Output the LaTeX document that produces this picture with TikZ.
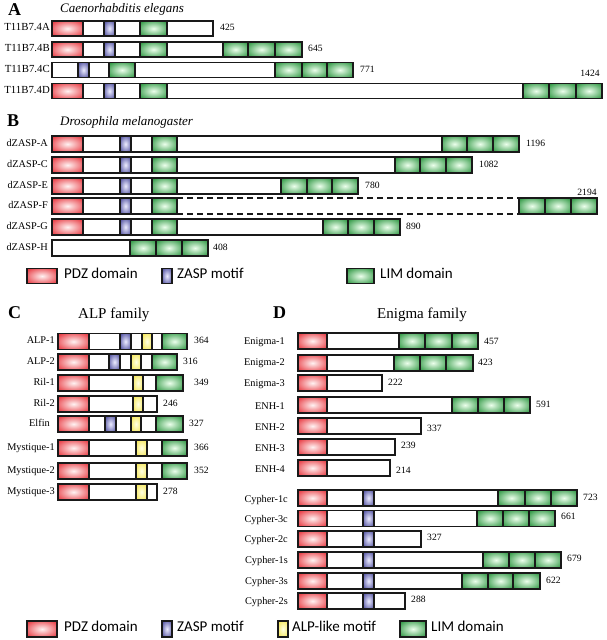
\documentclass[tikz,border=0pt]{standalone}
\usepackage{fontspec}
\setmainfont{Liberation Serif}
\newfontfamily\legfont{Carlito}
\definecolor{pdzO}{RGB}{232,58,66}
\definecolor{pdzI}{RGB}{255,242,242}
\definecolor{zaspO}{RGB}{78,78,158}
\definecolor{zaspI}{RGB}{236,236,255}
\definecolor{alpO}{RGB}{245,230,80}
\definecolor{alpI}{RGB}{255,255,228}
\definecolor{limO}{RGB}{48,152,68}
\definecolor{limI}{RGB}{236,255,236}
\pgfdeclareradialshading{pdzsh}{\pgfpoint{0bp}{0bp}}{color(0bp)=(pdzI); color(33bp)=(pdzO); color(50bp)=(pdzO)}
\pgfdeclareradialshading{zaspsh}{\pgfpoint{0bp}{0bp}}{color(0bp)=(zaspI); color(33bp)=(zaspO); color(50bp)=(zaspO)}
\pgfdeclareradialshading{alpsh}{\pgfpoint{0bp}{0bp}}{color(0bp)=(alpI); color(33bp)=(alpO); color(50bp)=(alpO)}
\pgfdeclareradialshading{limsh}{\pgfpoint{0bp}{0bp}}{color(0bp)=(limI); color(33bp)=(limO); color(50bp)=(limO)}
\def\hh{8}
\newcommand{\dm}[4]{\path[#1] (#2,#4-\hh) rectangle (#3,#4+\hh);}
\newcommand{\bx}[3]{\path[barst] (#1,#3-\hh) rectangle (#2,#3+\hh);}
\newcommand{\tlim}[5]{\dm{dlim}{#1}{#2}{#5}\dm{dlim}{#2}{#3}{#5}\dm{dlim}{#3}{#4}{#5}}
\begin{document}
\begin{tikzpicture}[x=1pt,y=-1pt,
  ol/.style={draw=black!90, line width=1.15pt},
  barst/.style={ol, fill=white},
  dpdz/.style={ol, shade, shading=pdzsh},
  dzasp/.style={ol, shade, shading=zaspsh},
  dalp/.style={ol, shade, shading=alpsh},
  dlim/.style={ol, shade, shading=limsh},
  dashline/.style={draw=black!90, line width=1.15pt, dash pattern=on 6pt off 4pt},
  lab/.style={font=\fontsize{10.3}{12}\selectfont, anchor=mid east, inner sep=0pt},
  labA/.style={font=\fontsize{10.8}{12}\selectfont, anchor=mid east, inner sep=0pt},
  num/.style={font=\fontsize{9.6}{11}\selectfont, anchor=mid west, inner sep=0pt},
  ttl/.style={font=\fontsize{13}{15}\selectfont\itshape, anchor=base west, inner sep=0pt},
  letter/.style={font=\fontsize{18}{20}\selectfont\bfseries, anchor=base west, inner sep=0pt},
  fam/.style={font=\fontsize{15}{17}\selectfont, anchor=base west, inner sep=0pt},
  leg/.style={font=\legfont\fontsize{15}{17}\selectfont, anchor=mid west, inner sep=0pt},
]
\useasboundingbox (0,0) rectangle (606,640);
\fill[white] (0,0) rectangle (606,640);

% ===== A =====
\node[letter] (lA) at (8,15) {A};
\node[ttl] (tA) at (60,12.5) {Caenorhabditis elegans};
\def\hh{7.5}
\node[labA] (a1) at (50,28.5) {T11B7.4A};
\bx{52}{213}{28.5}
\dm{dpdz}{52}{83}{28.5}
\dm{dzasp}{104}{115}{28.5}
\dm{dlim}{140}{167}{28.5}
\node[num] (a1n) at (220,28.5) {425};

\node[labA] (a2) at (50,49.5) {T11B7.4B};
\bx{52}{302}{49.5}
\dm{dpdz}{52}{83}{49.5}
\dm{dzasp}{104}{115}{49.5}
\dm{dlim}{140}{167}{49.5}
\tlim{223}{248}{275}{302}{49.5}
\node[num] (a2n) at (308,49.5) {645};

\node[labA] (a3) at (50,70) {T11B7.4C};
\bx{52}{353}{70}
\dm{dzasp}{78}{89}{70}
\dm{dlim}{109}{135}{70}
\tlim{275}{302}{327}{353}{70}
\node[num] (a3n) at (360,70) {771};

\node[labA] (a4) at (50,91) {T11B7.4D};
\bx{52}{602}{91}
\dm{dpdz}{52}{83}{91}
\dm{dzasp}{104}{115}{91}
\dm{dlim}{140}{167}{91}
\tlim{523}{549}{576}{602}{91}
\node[num, anchor=mid] (a4n) at (590,74) {1424};

% ===== B =====
\node[letter] (lB) at (7,126) {B};
\node[ttl] (tB) at (60,125) {Drosophila melanogaster};
\def\hh{8}
\node[lab] (b1) at (48,144) {dZASP-A};
\bx{52}{519}{144}
\dm{dpdz}{52}{83}{144}
\dm{dzasp}{120}{131}{144}
\dm{dlim}{152}{177}{144}
\tlim{442}{467}{493}{519}{144}
\node[num] (b1n) at (526,144) {1196};

\node[lab] (b2) at (48,165) {dZASP-C};
\bx{52}{472}{165}
\dm{dpdz}{52}{83}{165}
\dm{dzasp}{120}{131}{165}
\dm{dlim}{152}{177}{165}
\tlim{395}{420}{446}{472}{165}
\node[num] (b2n) at (479,165) {1082};

\node[lab] (b3) at (48,186) {dZASP-E};
\bx{52}{358}{186}
\dm{dpdz}{52}{83}{186}
\dm{dzasp}{120}{131}{186}
\dm{dlim}{152}{177}{186}
\tlim{281}{307}{332}{358}{186}
\node[num] (b3n) at (365,186) {780};

\node[lab] (b4) at (48,206) {dZASP-F};
\bx{52}{177}{206}
\coordinate (f1) at (177,198);
\coordinate (f2) at (519,198);
\coordinate (f3) at (177,214);
\coordinate (f4) at (519,214);
\draw[dashline] (f1) -- (f2);
\draw[dashline] (f3) -- (f4);
\dm{dpdz}{52}{83}{206}
\dm{dzasp}{120}{131}{206}
\dm{dlim}{152}{177}{206}
\tlim{519}{545}{571}{597}{206}
\node[num, anchor=mid] (b4n) at (587,193) {2194};

\node[lab] (b5) at (48,227) {dZASP-G};
\bx{52}{400}{227}
\dm{dpdz}{52}{83}{227}
\dm{dzasp}{120}{131}{227}
\dm{dlim}{152}{177}{227}
\tlim{323}{348}{374}{400}{227}
\node[num] (b5n) at (406,227) {890};

\node[lab] (b6) at (48,248) {dZASP-H};
\bx{52}{208}{248}
\tlim{130}{156}{182}{208}{248}
\node[num] (b6n) at (213,248) {408};

% legend 1
\def\hh{7.5}
\dm{dpdz}{27}{57}{276}
\node[leg] (lg1) at (64,276) {PDZ domain};
\dm{dzasp}{162}{172}{276}
\node[leg] (lg2) at (177,276) {ZASP motif};
\dm{dlim}{347}{374}{276}
\node[leg] (lg3) at (380,276) {LIM domain};

% ===== C =====
\node[letter] (lC) at (8,318) {C};
\node[fam] (tC) at (78,318) {ALP family};
\def\hh{8}
\node[lab] (c1) at (55,341.5) {ALP-1};
\bx{58}{187}{341.5}
\dm{dpdz}{58}{89}{341.5}
\dm{dzasp}{120}{131}{341.5}
\dm{dalp}{142}{152}{341.5}
\dm{dlim}{162}{187}{341.5}
\node[num] (c1n) at (194,341.5) {364};

\node[lab] (c2) at (55,362) {ALP-2};
\bx{58}{177}{362}
\dm{dpdz}{58}{89}{362}
\dm{dzasp}{109}{120}{362}
\dm{dalp}{131}{141}{362}
\dm{dlim}{152}{177}{362}
\node[num] (c2n) at (183,362) {316};

\node[lab] (c3) at (55,383) {Ril-1};
\bx{58}{183}{383}
\dm{dpdz}{58}{89}{383}
\dm{dalp}{133}{143}{383}
\dm{dlim}{156}{183}{383}
\node[num] (c3n) at (194,383) {349};

\node[lab] (c4) at (55,404) {Ril-2};
\bx{58}{157}{404}
\dm{dpdz}{58}{89}{404}
\dm{dalp}{133}{143}{404}
\node[num] (c4n) at (163,404) {246};

\node[lab] (c5) at (50,424) {Elfin};
\bx{58}{183}{424}
\dm{dpdz}{58}{89}{424}
\dm{dzasp}{105}{116}{424}
\dm{dalp}{131}{141}{424}
\dm{dlim}{156}{183}{424}
\node[num] (c5n) at (189,424) {327};

\node[lab] (c6) at (55,448) {Mystique-1};
\bx{58}{187}{448}
\dm{dpdz}{58}{89}{448}
\dm{dalp}{136}{147}{448}
\dm{dlim}{162}{187}{448}
\node[num] (c6n) at (194,448) {366};

\node[lab] (c7) at (55,471) {Mystique-2};
\bx{58}{187}{471}
\dm{dpdz}{58}{89}{471}
\dm{dalp}{136}{147}{471}
\dm{dlim}{162}{187}{471}
\node[num] (c7n) at (194,471) {352};

\node[lab] (c8) at (55,492) {Mystique-3};
\bx{58}{157}{492}
\dm{dpdz}{58}{89}{492}
\dm{dalp}{136}{147}{492}
\node[num] (c8n) at (163,492) {278};

% ===== D =====
\node[letter] (lD) at (273,318) {D};
\node[fam] (tD) at (377,318) {Enigma family};

\node[lab] (d1) at (285,342) {Enigma-1};
\bx{298}{478}{341}
\dm{dpdz}{298}{327}{341}
\tlim{399}{425}{452}{478}{341}
\node[num] (d1n) at (484,342) {457};

\node[lab] (d2) at (285,363) {Enigma-2};
\bx{298}{473}{363}
\dm{dpdz}{298}{327}{363}
\tlim{394}{420}{446}{473}{363}
\node[num] (d2n) at (478,363) {423};

\node[lab] (d3) at (285,384) {Enigma-3};
\bx{298}{382}{383}
\dm{dpdz}{298}{327}{383}
\node[num] (d3n) at (388,383) {222};

\node[lab] (d4) at (285,407) {ENH-1};
\bx{298}{530}{405}
\dm{dpdz}{298}{327}{405}
\tlim{452}{478}{504}{530}{405}
\node[num] (d4n) at (536,405) {591};

\node[lab] (d5) at (285,428) {ENH-2};
\bx{298}{421}{426}
\dm{dpdz}{298}{327}{426}
\node[num] (d5n) at (427,429) {337};

\node[lab] (d6) at (285,449) {ENH-3};
\bx{298}{395}{447}
\dm{dpdz}{298}{327}{447}
\node[num] (d6n) at (401,446) {239};

\node[lab] (d7) at (285,470) {ENH-4};
\bx{298}{390}{468}
\dm{dpdz}{298}{327}{468}
\node[num] (d7n) at (396,471) {214};

\node[lab] (d8) at (288,500) {Cypher-1c};
\bx{298}{577}{498}
\dm{dpdz}{298}{327}{498}
\dm{dzasp}{363}{374}{498}
\tlim{498}{525}{551}{577}{498}
\node[num] (d8n) at (583,498) {723};

\node[lab] (d9) at (288,520) {Cypher-3c};
\bx{298}{555}{518.5}
\dm{dpdz}{298}{327}{518.5}
\dm{dzasp}{363}{374}{518.5}
\tlim{477}{503}{529}{555}{518.5}
\node[num] (d9n) at (561,517) {661};

\node[lab] (d10) at (288,540) {Cypher-2c};
\bx{298}{421}{539}
\dm{dpdz}{298}{327}{539}
\dm{dzasp}{363}{374}{539}
\node[num] (d10n) at (427,538) {327};

\node[lab] (d11) at (288,561) {Cypher-1s};
\bx{298}{561}{560}
\dm{dpdz}{298}{327}{560}
\dm{dzasp}{363}{374}{560}
\tlim{483}{509}{535}{561}{560}
\node[num] (d11n) at (567,559) {679};

\node[lab] (d12) at (288,582) {Cypher-3s};
\bx{298}{540}{581}
\dm{dpdz}{298}{327}{581}
\dm{dzasp}{363}{374}{581}
\tlim{462}{488}{513}{540}{581}
\node[num] (d12n) at (546,581) {622};

\node[lab] (d13) at (288,602) {Cypher-2s};
\bx{298}{405}{601}
\dm{dpdz}{298}{327}{601}
\dm{dzasp}{363}{374}{601}
\node[num] (d13n) at (411,600) {288};

% legend 2
\dm{dpdz}{27}{57}{629}
\node[leg] (lh1) at (64,629) {PDZ domain};
\dm{dzasp}{162}{172}{629}
\node[leg] (lh2) at (177,629) {ZASP motif};
\dm{dalp}{278}{288}{629}
\node[leg] (lh3) at (292,629) {ALP-like motif};
\dm{dlim}{400}{426}{629}
\node[leg] (lh4) at (431,629) {LIM domain};
\end{tikzpicture}
\end{document}
